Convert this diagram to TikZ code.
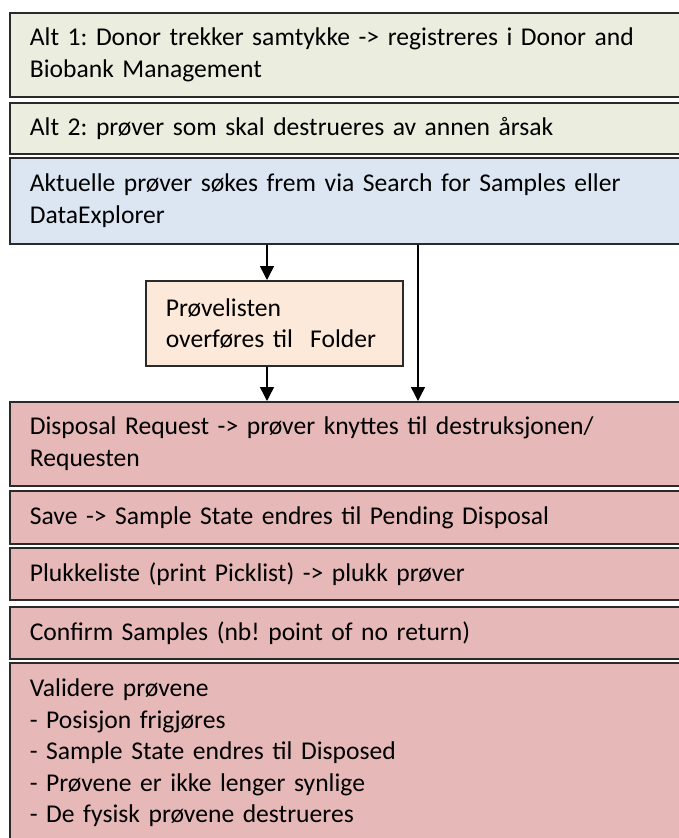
\documentclass[tikz,border=0pt]{standalone}
\usepackage{fontspec}
\setmainfont{Carlito}
\usetikzlibrary{arrows.meta,positioning}
\definecolor{greenfill}{HTML}{EBEEDE}
\definecolor{bluefill}{HTML}{DCE6F2}
\definecolor{orangefill}{HTML}{FDE9D9}
\definecolor{redfill}{HTML}{E6B8B7}
\definecolor{edge}{HTML}{2A2A2A}
\begin{document}
\frenchspacing
\begin{tikzpicture}[x=1pt,y=-1pt,
  box/.style={draw=edge, line width=1.7pt, anchor=north west, align=left,
    inner xsep=20pt, inner ysep=0pt, minimum width=700pt, text width=660pt,
    font=\fontsize{25.6}{31.5}\selectfont},
  flow/.style={line width=1.5pt, -{Triangle[width=14pt,length=14pt]}}]
\useasboundingbox (0,0) rectangle (679,838);
\clip (0,0) rectangle (679,838);
\fill[white] (0,0) rectangle (679,838);
\node[box, fill=greenfill, minimum height=84pt] (b1) at (9,12)
  {Alt 1: Donor trekker samtykke -> registreres i Donor and\\Biobank Management};
\node[box, fill=greenfill, minimum height=51pt] (b2) at (9,102)
  {Alt 2: prøver som skal destrueres av annen årsak};
\node[box, fill=bluefill, minimum height=86pt] (b3) at (9,157)
  {Aktuelle prøver søkes frem via Search for Samples eller\\DataExplorer};
\node[box, fill=orangefill, minimum height=85pt, minimum width=257pt, text width=217pt] (fo) at (145,280)
  {Prøvelisten\\overføres til\ \ Folder};
\node[box, fill=redfill, minimum height=84pt] (r1) at (9,401)
  {Disposal Request -> prøver knyttes til destruksjonen/\\Requesten};
\node[box, fill=redfill, minimum height=53pt] (r2) at (9,490)
  {Save -> Sample State endres til Pending Disposal};
\node[box, fill=redfill, minimum height=52pt] (r3) at (9,547)
  {Plukkeliste (print Picklist) -> plukk prøver};
\node[box, fill=redfill, minimum height=52pt] (r4) at (9,606)
  {Confirm Samples (nb! point of no return)};
\node[box, fill=redfill, inner ysep=16pt] (r5) at (9,662)
  {Validere prøvene\\- Posisjon frigjøres\\- Sample State endres til Disposed\\- Prøvene er ikke lenger synlige\\- De fysisk prøvene destrueres};
\draw[flow] (b3.south -| 267,0) -- (fo.north -| 267,0);
\draw[flow] (fo.south -| 267,0) -- (r1.north -| 267,0);
\draw[flow] (b3.south -| 418,0) -- (r1.north -| 418,0);
\end{tikzpicture}
\end{document}
